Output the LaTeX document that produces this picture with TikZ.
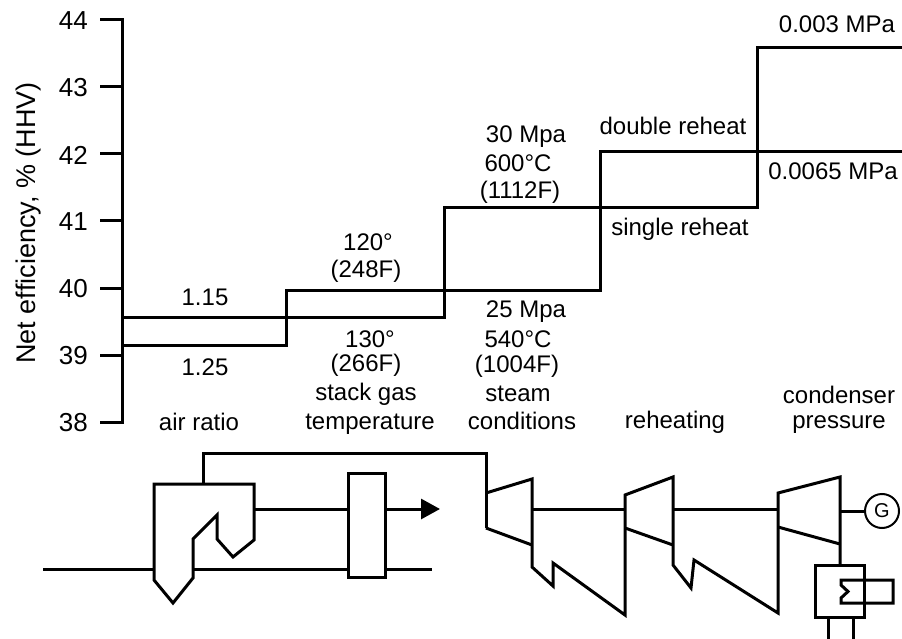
\documentclass[tikz,border=0pt]{standalone}
\usepackage{fontspec}
\setmainfont{Liberation Sans}
\usetikzlibrary{arrows.meta}
\begin{document}
\begin{tikzpicture}[x=1pt,y=-1pt,
  ln/.style={line width=3pt},
  lbl/.style={font=\fontsize{24}{28}\selectfont, inner sep=0pt, anchor=base},
  ticklbl/.style={font=\fontsize{26}{30}\selectfont, inner sep=0pt, anchor=east}]
\useasboundingbox (0,0) rectangle (902,639);

% ---------- chart ----------
\draw[ln] (100,20) -- (122,20) -- (122,422) -- (100,422);
\foreach \y in {87,154,221,288,355} \draw[ln] (100,\y) -- (122,\y);
\node[ticklbl] (y44) at (88,21) {44};
\node[ticklbl] (y43) at (88,88) {43};
\node[ticklbl] (y42) at (88,155) {42};
\node[ticklbl] (y41) at (88,222) {41};
\node[ticklbl] (y40) at (88,289) {40};
\node[ticklbl] (y39) at (88,356) {39};
\node[ticklbl] (y38) at (88,423) {38};
\node[font=\fontsize{27}{32}\selectfont, inner sep=0pt, rotate=90] (ylab) at (29,223) {Net efficiency, \% (HHV)};

\draw[ln] (122,345) -- (286,345) -- (286,290) -- (600,290) -- (600,152) -- (902,152);
\draw[ln] (122,317) -- (444,317) -- (444,208) -- (757,208) -- (757,48) -- (902,48);

\node[lbl] (a1) at (205,305) {1.15};
\node[lbl] (a2) at (205,375) {1.25};
\node[lbl] (a3) at (199,430) {air ratio};

\node[lbl] (s1) at (368,250) {120°};
\node[lbl] (s2) at (366,277) {(248F)};
\node[lbl] (s3) at (370,347) {130°};
\node[lbl] (s4) at (366,371) {(266F)};
\node[lbl] (s5) at (366,400) {stack gas};
\node[lbl] (s6) at (370,429) {temperature};

\node[lbl] (c1) at (526,143) {30 Mpa};
\node[lbl] (c2) at (518,172) {600°C};
\node[lbl] (c3) at (520,199) {(1112F)};
\node[lbl] (c4) at (526,317) {25 Mpa};
\node[lbl] (c5) at (518,347) {540°C};
\node[lbl] (c6) at (517,372) {(1004F)};
\node[lbl] (c7) at (518,401) {steam};
\node[lbl] (c8) at (522,429) {conditions};

\node[lbl] (r1) at (673,135) {double reheat};
\node[lbl] (r2) at (680,236) {single reheat};
\node[lbl] (r3) at (675,428) {reheating};

\node[lbl] (p1) at (837,33) {0.003 MPa};
\node[lbl] (p2) at (833,180) {0.0065 MPa};
\node[lbl] (p3) at (839,403) {condenser};
\node[lbl] (p4) at (839,428) {pressure};

% ---------- schematic ----------
% boiler
\draw[ln] (154,484) -- (254,484) -- (254,540) -- (233,557) -- (217,539) -- (217,515)
  -- (193,539) -- (193,578) -- (173,603) -- (154,580) -- cycle;
% main steam line
\draw[ln] (203,484) -- (203,453) -- (486,453) -- (486,528);
% flue gas path and heater box
\draw[ln] (348,473) rectangle (385,577);
\draw[ln] (254,509) -- (348,509);
\draw[ln, -{Triangle[length=19pt,width=20pt]}] (385,509) -- (440,509);
% feed line
\draw[ln] (43,569) -- (154,569);
\draw[ln] (193,569) -- (348,569);
\draw[ln] (385,569) -- (432,569);
% turbines with reheat paths
\draw[ln] (486,493) -- (532,479) -- (532,567) -- (553,586) -- (553,563) -- (625,615)
  -- (625,495) -- (673,477) -- (673,565) -- (691,588) -- (694,560) -- (778,613)
  -- (778,493) -- (840,477) -- (840,565);
\draw[ln] (486,528) -- (532,545);
\draw[ln] (625,528) -- (673,545);
\draw[ln] (778,527) -- (840,544);
% shafts and generator
\node[circle, draw, line width=2pt, minimum size=34pt, inner sep=0pt,
  font=\fontsize{20}{24}\selectfont] (G) at (882,511) {G};
\draw[ln] (532,509) -- (625,509);
\draw[ln] (673,509) -- (778,509);
\draw[ln] (840,511) -- (G.west);
% condenser
\draw[ln] (815,565) rectangle (864,617);
\draw[ln] (841,580) -- (893,580) -- (893,603) -- (841,603) -- (841,598) -- (848,591.5) -- (841,585) -- cycle;
\draw[ln] (828,617) -- (828,639);
\draw[ln] (853,617) -- (853,639);
\end{tikzpicture}
\end{document}
